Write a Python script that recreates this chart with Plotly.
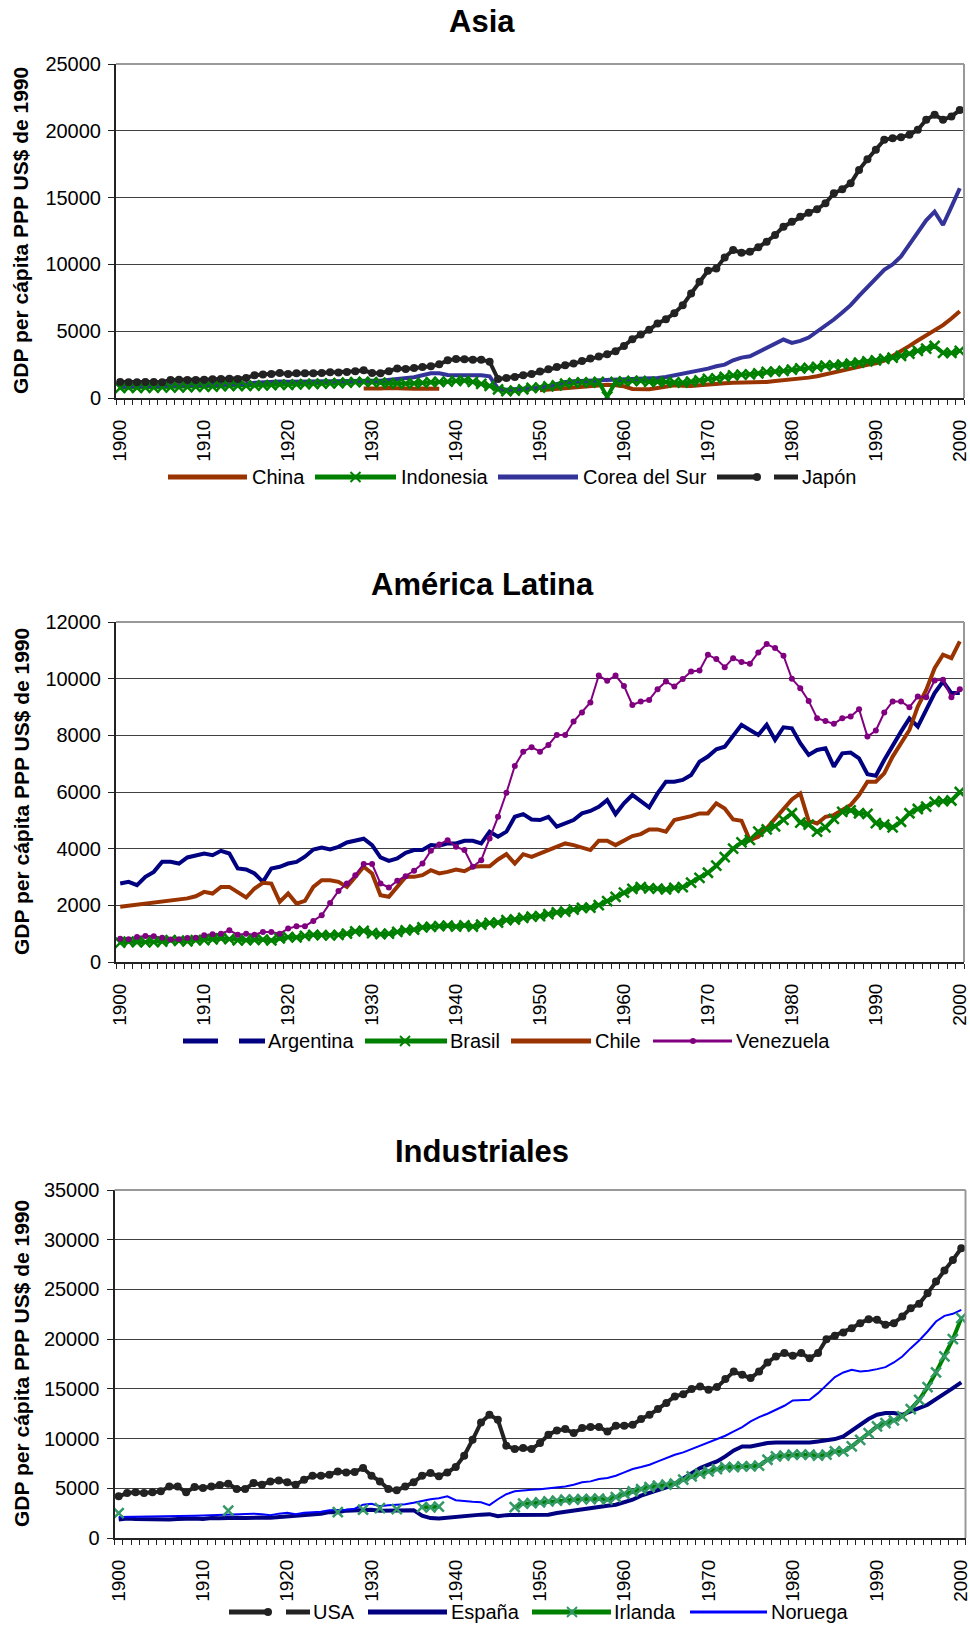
import plotly.graph_objects as go

W, H = 970, 1630
years = list(range(1900, 2001))
tick_years = list(range(1900, 2001, 10))

# ---------------- Asia ----------------
china = ([None] * 29
         + [720, 700, 720, 740, 720, 680, 700, 720, 710, 700]
         + [None] * 11
         + [575, 625, 675, 700, 725, 775, 875, 900, 1000, 950,
            875, 675, 625, 650, 750, 875, 950, 925, 900, 950,
            1025, 1075, 1100, 1150, 1150, 1175, 1170, 1200, 1275, 1325,
            1400, 1450, 1525, 1625, 1775, 1950, 2100, 2250, 2400, 2480,
            2600, 2800, 3150, 3500, 3900, 4300, 4700, 5100, 5450, 5950,
            6500])

indonesia = [760, 770, 760, 770, 780, 790, 800, 800, 810, 830,
             850, 860, 880, 900, 900, 910, 930, 950, 960, 1000,
             990, 1020, 1040, 1050, 1080, 1100, 1120, 1150, 1180, 1200,
             1180, 1150, 1100, 1090, 1080, 1100, 1130, 1180, 1200, 1220,
             1280, 1300, 1200, 1050, 900, 650, 520, 560, 650, 750,
             775, 875, 950, 1075, 1125, 1175, 1150, 1200, 100, 1200,
             1250, 1275, 1275, 1200, 1210, 1200, 1175, 1150, 1225, 1325,
             1425, 1475, 1575, 1700, 1750, 1775, 1850, 1950, 1975, 2025,
             2125, 2225, 2250, 2325, 2425, 2450, 2500, 2575, 2650, 2750,
             2825, 2925, 3025, 3150, 3325, 3525, 3700, 3900, 3375, 3375,
             3525]

corea = [870, 880, 860, 890, 900, 890, 910, 920, 910, 930,
         940, 960, 980, 1000, 1020, 1050, 1150, 1200, 1250, 1230,
         1220, 1230, 1240, 1260, 1270, 1290, 1300, 1310, 1330, 1350,
         1300, 1290, 1340, 1400, 1450, 1550, 1700, 1850, 1850, 1720,
         1700, 1720, 1700, 1700, 1620, 700, 620, 650, 720, 770,
         775, 875, 1025, 1200, 1250, 1275, 1280, 1325, 1320, 1325,
         1330, 1375, 1425, 1450, 1500, 1575, 1700, 1825, 1875, 2025,
         2200, 2375, 2500, 2825, 3025, 3125, 3450, 3775, 4125, 4375,
         4125, 4275, 4525, 4950, 5450, 5875, 6400, 6950, 7650, 8300,
         9000, 9600, 10000, 10600, 11500, 12400, 13300, 13950, 12950, 14300,
         15700]

japon = [1200, 1180, 1170, 1200, 1190, 1180, 1350, 1360, 1350, 1340,
         1370, 1400, 1430, 1450, 1420, 1500, 1700, 1750, 1800, 1870,
         1800, 1860, 1850, 1850, 1870, 1920, 1910, 1940, 2000, 2070,
         1870, 1860, 2000, 2200, 2180, 2250, 2320, 2370, 2520, 2820,
         2920, 2900, 2870, 2860, 2720, 1420, 1500, 1570, 1700, 1800,
         1980, 2150, 2325, 2450, 2575, 2775, 2950, 3100, 3275, 3500,
         3900, 4400, 4750, 5100, 5575, 5900, 6350, 6950, 7825, 8700,
         9525, 9700, 10525, 11075, 10875, 10950, 11275, 11700, 12200, 12825,
         13200, 13575, 13875, 14125, 14575, 15325, 15625, 16075, 17075, 17875,
         18575, 19325, 19450, 19525, 19700, 20075, 20825, 21200, 20825, 21075,
         21550]

# ---------------- América Latina ----------------
argentina = [2770, 2830, 2710, 3005, 3180, 3535, 3535, 3475, 3690, 3750,
             3830, 3770, 3925, 3830, 3300, 3265, 3125, 2830, 3300, 3360,
             3475, 3535, 3715, 3970, 4040, 3970, 4065, 4220, 4300, 4350,
             4125, 3690, 3570, 3655, 3855, 3950, 3950, 4125, 4100, 4185,
             4185, 4280, 4280, 4185, 4600, 4420, 4600, 5125, 5220, 5030,
             5010, 5125, 4775, 4890, 5010, 5245, 5330, 5480, 5715, 5220,
             5600, 5895, 5655, 5455, 5950, 6365, 6365, 6425, 6600, 7070,
             7250, 7510, 7600, 8015, 8370, 8190, 8015, 8370, 7840, 8285,
             8250, 7720, 7310, 7485, 7545, 6895, 7365, 7390, 7190, 6625,
             6575, 7130, 7660, 8130, 8600, 8310, 8900, 9490, 9900, 9490,
             9490]

brasil = [680, 720, 700, 700, 700, 720, 770, 750, 730, 770,
          770, 800, 830, 810, 760, 770, 780, 790, 760, 830,
          880, 870, 920, 960, 950, 940, 960, 1000, 1080, 1100,
          1020, 980, 1000, 1060, 1120, 1140, 1220, 1240, 1270, 1280,
          1250, 1290, 1250, 1320, 1380, 1390, 1480, 1500, 1560, 1600,
          1620, 1690, 1750, 1780, 1850, 1910, 1920, 2010, 2150, 2300,
          2450, 2580, 2640, 2600, 2590, 2560, 2620, 2640, 2800, 2970,
          3150, 3400, 3700, 4000, 4220, 4310, 4600, 4680, 4790, 5020,
          5250, 4920, 4850, 4600, 4750, 5050, 5300, 5350, 5250, 5230,
          4900, 4850, 4750, 4950, 5250, 5400, 5480, 5650, 5680, 5700,
          6000]

chile = [1950, 1985, 2020, 2060, 2095, 2130, 2170, 2205, 2245, 2320,
         2475, 2415, 2650, 2650, 2475, 2275, 2595, 2795, 2770, 2120,
         2415, 2060, 2155, 2650, 2885, 2885, 2830, 2650, 3005, 3360,
         3125, 2355, 2300, 2650, 3005, 3005, 3065, 3240, 3125, 3180,
         3265, 3205, 3360, 3380, 3380, 3620, 3805, 3475, 3805, 3710,
         3830, 3925, 4040, 4185, 4125, 4040, 3950, 4280, 4280, 4125,
         4300, 4445, 4515, 4680, 4680, 4600, 5010, 5070, 5150, 5245,
         5245, 5600, 5420, 5030, 4985, 4300, 4420, 4715, 5070, 5420,
         5740, 5950, 4985, 4890, 5125, 5185, 5360, 5540, 5895, 6365,
         6365, 6660, 7250, 7720, 8190, 9015, 9605, 10370, 10845, 10725,
         11315]

venezuela = [825, 800, 885, 920, 910, 860, 790, 800, 850, 860,
             945, 980, 1000, 1120, 965, 1000, 965, 1060, 1060, 1000,
             1180, 1260, 1260, 1450, 1650, 2085, 2510, 2770, 3065, 3455,
             3455, 2770, 2630, 2865, 3030, 3220, 3475, 3925, 4150, 4300,
             4065, 3950, 3360, 3595, 4360, 5125, 5975, 6920, 7425, 7580,
             7425, 7660, 8015, 8015, 8485, 8805, 9160, 10110, 9925, 10110,
             9745, 9075, 9195, 9250, 9630, 9900, 9725, 9985, 10255, 10290,
             10845, 10690, 10405, 10725, 10585, 10525, 10925, 11220, 11080, 10810,
             9995, 9665, 9215, 8605, 8510, 8405, 8605, 8665, 8920, 7955,
             8170, 8805, 9195, 9195, 8995, 9370, 9345, 9935, 9960, 9345,
             9630]

# ---------------- Industriales ----------------
usa = [4190, 4520, 4590, 4520, 4590, 4690, 5190, 5190, 4590, 5125,
       5025, 5190, 5325, 5460, 4925, 4925, 5530, 5360, 5695, 5795,
       5595, 5360, 5860, 6265, 6265, 6365, 6700, 6600, 6650, 7035,
       6265, 5695, 4925, 4790, 5190, 5595, 6265, 6530, 6200, 6600,
       7135, 8275, 9880, 11625, 12395, 11890, 9280, 8945, 9045, 8945,
       9550, 10385, 10820, 10955, 10550, 11055, 11155, 11155, 10720, 11290,
       11290, 11390, 11960, 12395, 12965, 13570, 14240, 14470, 14975, 15245,
       14910, 15175, 15980, 16750, 16415, 16080, 16750, 17655, 18260, 18595,
       18325, 18595, 18090, 18595, 20000, 20335, 20670, 21105, 21610, 22010,
       21940, 21440, 21610, 22280, 23115, 23550, 24620, 25795, 26900, 27970,
       29145]

espana = [1850, 1950, 1900, 1880, 1870, 1830, 1860, 1900, 1950, 1960,
          1900, 2000, 1980, 2050, 2030, 2020, 2080, 2050, 2040, 2100,
          2250, 2300, 2350, 2400, 2450, 2600, 2580, 2750, 2800, 2900,
          2850, 2750, 2780, 2720, 2760, 2800, 2250, 2000, 1950, 2050,
          2150, 2150, 2250, 2350, 2400, 2200, 2300, 2300, 2300, 2250,
          2350, 2345, 2510, 2645, 2710, 2850, 2980, 3115, 3250, 3350,
          3585, 3850, 4255, 4520, 4860, 5100, 5450, 5950, 6450, 7035,
          7370, 7705, 8210, 8810, 9210, 9210, 9380, 9550, 9615, 9615,
          9550, 9550, 9615, 9715, 9815, 9950, 10220, 10820, 11390, 11960,
          12395, 12565, 12565, 12395, 12730, 13065, 13400, 13970, 14570, 15075,
          15645]

irlanda = ([2500] + [None] * 12 + [2750] + [None] * 12 + [2600, None, None, 2850,
           None, 3000, None, 2900, None, None, 3100, 3080, 3150]
           + [None] * 8 + [3100, 3450, 3500]
           + [3585, 3685, 3750, 3850, 3850, 3920, 3920, 3955, 3850, 4120,
              4455, 4690, 4925, 5125, 5260, 5360, 5460, 5860, 6200, 6465,
              6700, 6935, 7135, 7135, 7200, 7200, 7270, 7870, 8210, 8275,
              8375, 8375, 8375, 8275, 8375, 8710, 8710, 9210, 9880, 10550,
              11225, 11560, 11825, 12230, 12965, 13900, 15175, 16650, 18260, 20000,
              22110])

noruega = [2100, 2110, 2100, 2120, 2130, 2150, 2170, 2200, 2220, 2240,
           2260, 2280, 2300, 2320, 2350, 2420, 2450, 2380, 2300, 2450,
           2550, 2400, 2550, 2600, 2650, 2780, 2800, 2850, 2950, 3350,
           3450, 3200, 3300, 3350, 3400, 3550, 3750, 3900, 4000, 4200,
           3800, 3700, 3650, 3600, 3300, 3900, 4400, 4700, 4800, 4850,
           4900, 4980, 5050, 5190, 5360, 5600, 5695, 5930, 6030, 6265,
           6600, 6935, 7135, 7370, 7705, 8040, 8375, 8610, 8945, 9210,
           9550, 9950, 10285, 10720, 11155, 11725, 12160, 12495, 12900, 13300,
           13835, 13835, 13900, 14570, 15410, 16180, 16650, 16920, 16750, 16815,
           16985, 17185, 17655, 18260, 19095, 19865, 20770, 21775, 22345, 22545,
           22950]

FONT = "Liberation Sans, Arial, sans-serif"
INK = "#222222"
BROWN = "#993300"
GREEN = "#008000"
SEAGREEN = "#339966"
INDIGO = "#333399"
NAVY = "#000080"
PURPLE = "#800080"
BLUE = "#0000FF"


def fx(x):
    return x / W


def fy(y):
    return 1 - y / H


DOT = "circle"
CROSS = "x"

panels = [
    dict(x0=116, x1=964, y0=64, y1=398, ymax=25000, dtick=5000,
         title="Asia", ty=21, ly=477,
         series=[
             dict(name="China", y=china, color=BROWN, width=4, mk=None,
                  segs=[(168, 247)], mx=None, tx=250),
             dict(name="Indonesia", y=indonesia, color=GREEN, width=4,
                  mk=dict(kind=CROSS, size=10, color=GREEN),
                  segs=[(315, 396)], mx=355.5, tx=399),
             dict(name="Corea del Sur", y=corea, color=INDIGO, width=4, mk=None,
                  segs=[(498, 578)], mx=None, tx=581),
             dict(name="Japón", y=japon, color=INK, width=4,
                  mk=dict(kind=DOT, size=8, color=INK),
                  segs=[(717, 755), (774, 798)], mx=757, tx=800),
         ]),
    dict(x0=116, x1=964, y0=622, y1=962, ymax=12000, dtick=2000,
         title="América Latina", ty=585, ly=1041,
         series=[
             dict(name="Argentina", y=argentina, color=NAVY, width=4, mk=None,
                  segs=[(183, 218), (239, 265)], mx=None, tx=266),
             dict(name="Brasil", y=brasil, color=GREEN, width=4,
                  mk=dict(kind=CROSS, size=10, color=GREEN),
                  segs=[(365, 447)], mx=405, tx=448),
             dict(name="Chile", y=chile, color=BROWN, width=4, mk=None,
                  segs=[(511, 591)], mx=None, tx=593),
             dict(name="Venezuela", y=venezuela, color=PURPLE, width=2,
                  mk=dict(kind=DOT, size=6, color=PURPLE),
                  segs=[(653, 732)], mx=693, tx=734),
         ]),
    dict(x0=114.5, x1=965.5, y0=1190, y1=1538, ymax=35000, dtick=5000,
         title="Industriales", ty=1151, ly=1612,
         series=[
             dict(name="USA", y=usa, color=INK, width=4,
                  mk=dict(kind=DOT, size=8, color=INK),
                  segs=[(229, 265), (286, 310)], mx=268, tx=311),
             dict(name="España", y=espana, color=NAVY, width=4, mk=None,
                  segs=[(368, 447)], mx=None, tx=449),
             dict(name="Irlanda", y=irlanda, color=GREEN, width=4,
                  mk=dict(kind=CROSS, size=10, color=SEAGREEN),
                  segs=[(532, 611)], mx=572, tx=612),
             dict(name="Noruega", y=noruega, color=BLUE, width=2, mk=None,
                  segs=[(690, 767)], mx=None, tx=769),
         ]),
]

fig = go.Figure()
shapes = []
annotations = []
layout_axes = {}

for i, p in enumerate(panels):
    sfx = "" if i == 0 else str(i + 1)
    xname, yname = "x" + sfx, "y" + sfx

    # lines first, then markers on top of every line (spreadsheet drawing order)
    for s in p["series"]:
        fig.add_trace(go.Scatter(
            x=years, y=s["y"], mode="lines", name=s["name"],
            line=dict(color=s["color"], width=s["width"]),
            connectgaps=False, showlegend=False, hoverinfo="skip",
            xaxis=xname, yaxis=yname))
    for s in p["series"]:
        mk = s["mk"]
        if mk is None:
            continue
        if mk["kind"] == DOT:
            marker = dict(symbol="circle", size=mk["size"], color=mk["color"],
                          line=dict(width=0))
        else:
            marker = dict(symbol="x-thin", size=mk["size"],
                          line=dict(width=2.5, color=mk["color"]))
        fig.add_trace(go.Scatter(
            x=years, y=s["y"], mode="markers", name=s["name"], marker=marker,
            showlegend=False, hoverinfo="skip", xaxis=xname, yaxis=yname))

    layout_axes["xaxis" + sfx] = dict(
        domain=[fx(p["x0"]), fx(p["x1"])], range=[1899.5, 2000.5],
        anchor=yname, tickmode="array", tickvals=tick_years,
        ticktext=[str(t) for t in tick_years], tickangle=-90, ticks="",
        showline=True, linecolor=INK, linewidth=2, showgrid=False,
        zeroline=False, ticklabelstandoff=12, automargin=False,
        ticklabeloverflow="allow",
        tickfont=dict(family=FONT, size=19, color="#000000"),
        minor=dict(tickmode="array",
                   tickvals=[1899.5 + k for k in range(102)],
                   ticks="outside", ticklen=5, tickwidth=1,
                   tickcolor=INK, showgrid=False),
        fixedrange=True)
    layout_axes["yaxis" + sfx] = dict(
        domain=[fy(p["y1"]), fy(p["y0"])], range=[0, p["ymax"]],
        anchor=xname, tickmode="linear", tick0=0, dtick=p["dtick"],
        tickformat="d",
        ticks="outside", ticklen=6, tickwidth=1, tickcolor=INK,
        showline=True, linecolor=INK, linewidth=2,
        showgrid=True, gridcolor="#404040", gridwidth=1, zeroline=False,
        ticklabelstandoff=3, automargin=False, ticklabeloverflow="allow",
        tickfont=dict(family=FONT, size=20, color="#000000"),
        fixedrange=True)

    # grey frame on the top and right of the plot area
    shapes.append(dict(type="line", xref="paper", yref="paper",
                       x0=fx(p["x0"]), x1=fx(p["x1"]), y0=fy(p["y0"]), y1=fy(p["y0"]),
                       line=dict(color="#999999", width=2)))
    shapes.append(dict(type="line", xref="paper", yref="paper",
                       x0=fx(p["x1"]), x1=fx(p["x1"]), y0=fy(p["y0"]), y1=fy(p["y1"]),
                       line=dict(color="#999999", width=2)))

    # panel title and y-axis title
    annotations.append(dict(text="<b>" + p["title"] + "</b>", x=fx(482), y=fy(p["ty"]),
                            xref="paper", yref="paper", showarrow=False,
                            xanchor="center", yanchor="middle",
                            font=dict(family=FONT, size=31, color="#000000")))
    annotations.append(dict(text="<b>GDP per cápita PPP US$ de 1990</b>",
                            x=fx(21), y=fy((p["y0"] + p["y1"]) / 2),
                            xref="paper", yref="paper", showarrow=False,
                            textangle=-90, xanchor="center", yanchor="middle",
                            font=dict(family=FONT, size=21, color="#000000")))

    # legend row below the axis labels
    ly = p["ly"]
    for s in p["series"]:
        for a, b in s["segs"]:
            shapes.append(dict(type="line", xref="paper", yref="paper",
                               x0=fx(a), x1=fx(b), y0=fy(ly), y1=fy(ly),
                               line=dict(color=s["color"], width=max(s["width"], 2) + 1)))
        mk = s["mk"]
        if mk is not None and s["mx"] is not None:
            cx = s["mx"]
            if mk["kind"] == DOT:
                r = mk["size"] / 2
                shapes.append(dict(type="circle", xref="paper", yref="paper",
                                   x0=fx(cx - r), x1=fx(cx + r),
                                   y0=fy(ly + r), y1=fy(ly - r),
                                   fillcolor=mk["color"], line=dict(width=0)))
            else:
                r = mk["size"] / 2
                for d in (1, -1):
                    shapes.append(dict(type="line", xref="paper", yref="paper",
                                       x0=fx(cx - r), x1=fx(cx + r),
                                       y0=fy(ly - d * r), y1=fy(ly + d * r),
                                       line=dict(color=mk["color"], width=2)))
        annotations.append(dict(text=s["name"], x=fx(s["tx"]), y=fy(ly),
                                xref="paper", yref="paper", showarrow=False,
                                xanchor="left", yanchor="middle",
                                font=dict(family=FONT, size=20, color="#000000")))

fig.update_layout(
    template="none",
    width=W, height=H, margin=dict(l=0, r=0, t=0, b=0, pad=0),
    paper_bgcolor="white", plot_bgcolor="white",
    showlegend=False, shapes=shapes, annotations=annotations,
    font=dict(family=FONT, size=20, color="#000000"),
    **layout_axes)

fig.write_html("out.html")
